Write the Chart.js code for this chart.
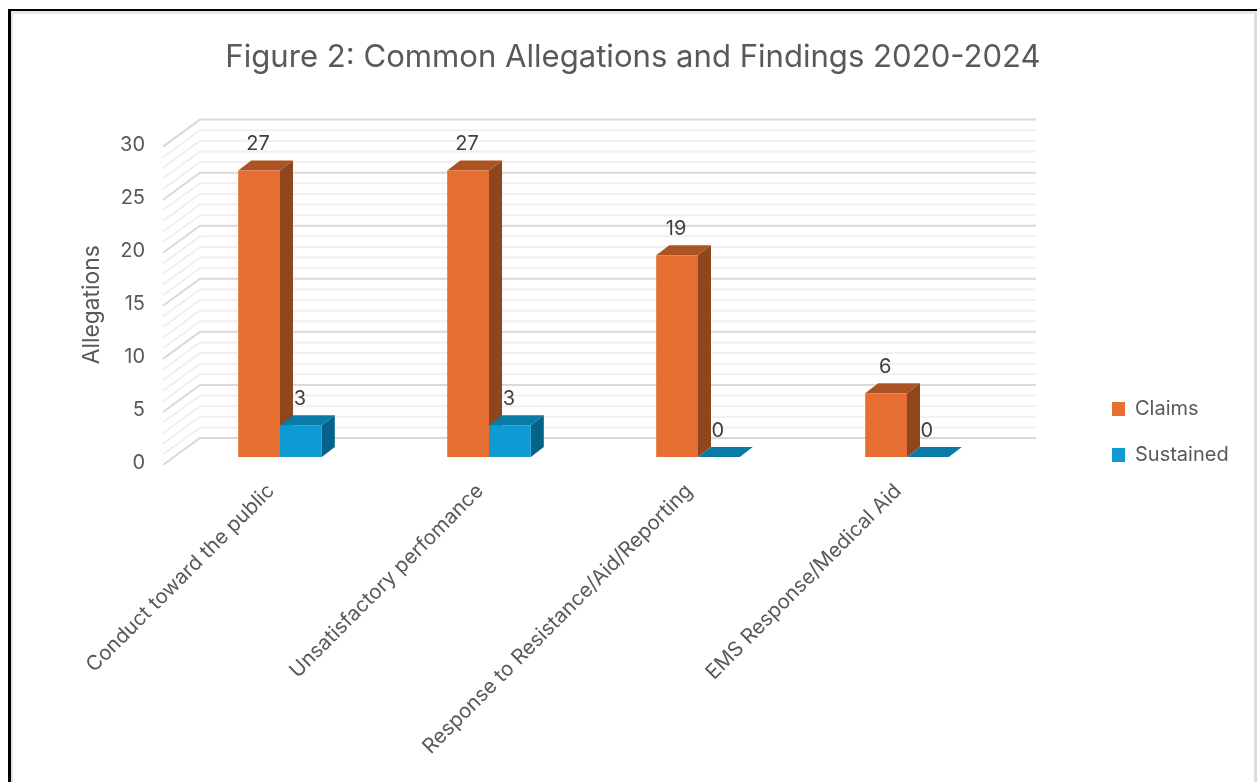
<!DOCTYPE html>
<html>
<head>
<meta charset="utf-8">
<style>
  html, body { margin: 0; padding: 0; background: #fff; }
  #frame { position: absolute; left: 8px; top: 9px; width: 1249px; height: 773px;
           border-left: 3px solid #000; border-top: 2px solid #000; box-sizing: border-box; }
  #wrap { position: absolute; left: 0; top: 0; right: 0; bottom: 0;
          border-left: 2px solid #e3e3e3; border-top: 3px solid #e8e8e8; border-right: 3px solid #dcdcdc; }
  canvas { display: block; }
</style>
</head>
<body>
<div id="frame"><div id="wrap"><canvas id="allegationsChart" width="1240" height="768"></canvas></div></div>
<script src="https://cdn.jsdelivr.net/npm/chart.js@4/dist/chart.umd.min.js"></script>
<script>
var categories = ['Conduct toward the public', 'Unsatisfactory perfomance', 'Response to Resistance/Aid/Reporting', 'EMS Response/Medical Aid'];
var claims = [27, 27, 19, 6];
var sustained = [3, 3, 0, 0];

var font = 'Inter, "Liberation Sans", sans-serif';
var textColor = '#595959';

// how far the bar tops and sides are pushed back
var barDepth = { x: 13, y: 10 };
// where the walls sit compared to the plane of the bars
var wallFront = { x: -12.5, y: 8 };
var wallBack = { x: 24.5, y: -19 };

function polygon(ctx, pts, fill) {
    ctx.beginPath();
    ctx.moveTo(pts[0][0], pts[0][1]);
    for (var i = 1; i < pts.length; i++) ctx.lineTo(pts[i][0], pts[i][1]);
    ctx.closePath();
    ctx.fillStyle = fill;
    ctx.fill();
}

// back wall and left wall of the fake 3D box
var wallsPlugin = {
    id: 'walls',
    beforeDatasetsDraw: function(chart) {
        var ctx = chart.ctx, area = chart.chartArea, y = chart.scales.y;
        ctx.save();
        y.ticks.forEach(function(t) {
            var py = y.getPixelForValue(t.value);
            ctx.strokeStyle = t.value % 5 === 0 ? '#d9d9d9' : '#f0f0f0';
            ctx.lineWidth = 2;
            ctx.beginPath();
            ctx.moveTo(area.left + wallFront.x, py + wallFront.y);
            ctx.lineTo(area.left + wallBack.x, py + wallBack.y);
            ctx.lineTo(area.right + wallBack.x, py + wallBack.y);
            ctx.stroke();
        });
        ctx.restore();
    }
};

// side and top faces go down before the front faces, series by series
var depthPlugin = {
    id: 'depth',
    beforeDatasetsDraw: function(chart) {
        var ctx = chart.ctx;
        ctx.save();
        chart.data.datasets.forEach(function(ds, i) {
            chart.getDatasetMeta(i).data.forEach(function(bar) {
                var l = bar.x - bar.width / 2, r = bar.x + bar.width / 2;
                var dx = barDepth.x, dy = barDepth.y;
                polygon(ctx, [[r, bar.y], [r + dx, bar.y - dy], [r + dx, bar.base - dy], [r, bar.base]], ds.sideColor);
                polygon(ctx, [[l, bar.y], [l + dx, bar.y - dy], [r + dx, bar.y - dy], [r, bar.y]], ds.topColor);
            });
        });
        ctx.restore();
    }
};

var valueLabelsPlugin = {
    id: 'valueLabels',
    afterDatasetsDraw: function(chart) {
        var ctx = chart.ctx;
        ctx.save();
        ctx.font = '20px ' + font;
        ctx.fillStyle = '#404040';
        ctx.textAlign = 'center';
        ctx.textBaseline = 'middle';
        chart.data.datasets.forEach(function(ds, i) {
            chart.getDatasetMeta(i).data.forEach(function(bar, j) {
                ctx.fillText(ds.data[j], bar.x - 1, bar.y - 26);
            });
        });
        ctx.restore();
    }
};

// axis title sits a little below the middle of the axis, so it is drawn by hand
var axisTitlePlugin = {
    id: 'axisTitle',
    afterDraw: function(chart) {
        var ctx = chart.ctx, area = chart.chartArea;
        ctx.save();
        ctx.translate(79, (area.top + area.bottom) / 2 + 7);
        ctx.rotate(-Math.PI / 2);
        ctx.font = '22.8px ' + font;
        ctx.fillStyle = textColor;
        ctx.textAlign = 'center';
        ctx.textBaseline = 'middle';
        ctx.fillText('Allegations', 0, 0);
        ctx.restore();
    }
};

// the legend floats to the right of the plot, next to the lower gridlines,
// and the title centres on the whole canvas rather than the padded area
var placementPlugin = {
    id: 'placement',
    beforeDraw: function(chart) {
        var legend = chart.legend;
        legend.left = 1073;
        legend.right = 1240;
        legend.top = 359;
        legend.bottom = 768;
        chart.titleBlock.left = 0;
        chart.titleBlock.right = 1240;
    }
};

var ctx = document.getElementById('allegationsChart').getContext('2d');
var chart = new Chart(ctx, {
    type: 'bar',
    data: {
        labels: categories,
        datasets: [{
            label: 'Claims',
            data: claims,
            backgroundColor: '#E66E33',
            sideColor: '#8E471D',
            topColor: '#AB5322'
        }, {
            label: 'Sustained',
            data: sustained,
            backgroundColor: '#0E9AD2',
            sideColor: '#05638A',
            topColor: '#0A7AA6'
        }]
    },
    plugins: [placementPlugin, wallsPlugin, depthPlugin, valueLabelsPlugin, axisTitlePlugin],
    options: {
        responsive: false,
        maintainAspectRatio: false,
        animation: false,
        devicePixelRatio: 1,
        categoryPercentage: 0.4,
        barPercentage: 1,
        layout: { padding: { left: 20, right: 0, top: 25, bottom: 0 } },
        plugins: {
            tooltip: { enabled: false },
            title: {
                display: true,
                text: 'Figure 2: Common Allegations and Findings 2020-2024',
                color: textColor,
                font: { family: font, size: 31.1, weight: 'normal' },
                padding: { top: 0, bottom: 62.3 }
            },
            legend: {
                position: 'right',
                align: 'start',
                fullSize: false,
                labels: {
                    color: textColor,
                    font: { family: font, size: 20 },
                    boxWidth: 13,
                    boxHeight: 14,
                    padding: 26
                }
            }
        },
        scales: {
            x: {
                grid: { display: false },
                border: { display: false },
                afterFit: function(scale) { scale.height = 325; },
                ticks: {
                    color: textColor,
                    font: { family: font, size: 20.5 },
                    minRotation: 45,
                    maxRotation: 45,
                    padding: 14,
                    labelOffset: -9
                }
            },
            y: {
                min: 0,
                max: 30,
                grid: { display: false, drawTicks: false },
                border: { display: false },
                afterFit: function(scale) { scale.width = 142.5; },
                ticks: {
                    stepSize: 1,
                    autoSkip: false,
                    color: textColor,
                    font: { family: font, size: 20 },
                    padding: 30.5,
                    labelOffset: 6,
                    callback: function(v) { return v % 5 === 0 ? v : ''; }
                }
            }
        }
    }
});
// the plot width is pinned by padding out whatever the legend does not take
chart.options.layout.padding.right = 241.5 - chart.legend.width;
chart.update();
</script>
</body>
</html>
